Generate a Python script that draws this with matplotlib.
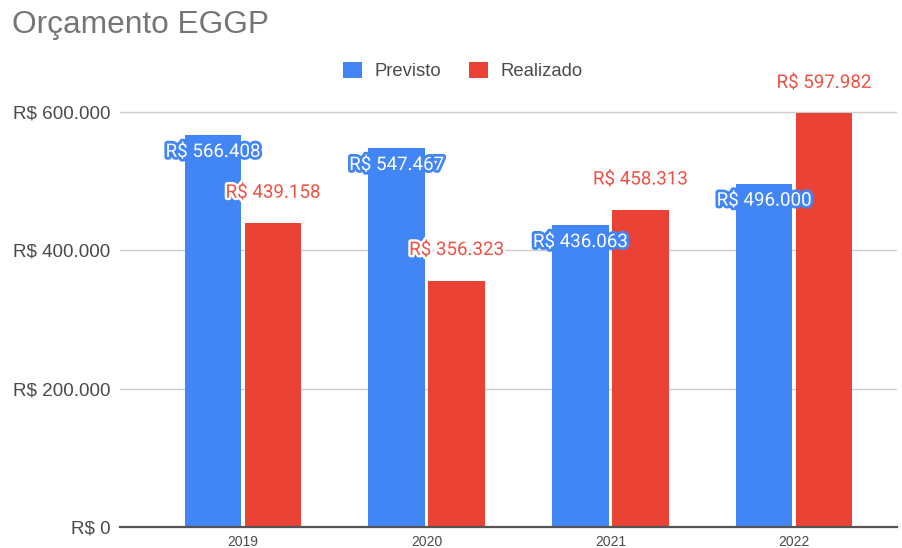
import numpy as np
import matplotlib.pyplot as plt
import matplotlib.patheffects as pe
from matplotlib.patches import Patch

anos = ['2019', '2020', '2021', '2022']
previsto = [566408, 547467, 436063, 496000]
realizado = [439158, 356323, 458313, 597982]
yticks = [0, 200000, 400000, 600000]

azul = '#4285F4'
vermelho = '#EA4335'


def brl(v):
    return 'R$ ' + f'{v:,.0f}'.replace(',', '.')


plt.rcParams['font.family'] = ['Liberation Sans', 'DejaVu Sans']

fig = plt.figure(figsize=(9.02, 5.48), dpi=100)
# axes placed in pixel terms: left 120, right 897, bottom 527, top ~98
ax = fig.add_axes([120 / 902, 1 - 527 / 548, 777 / 902, 428.8 / 548])

x = np.arange(len(anos))
w = 0.309
off = 0.163
b1 = ax.bar(x - off, previsto, w, color=azul, zorder=3)
b2 = ax.bar(x + off, realizado, w, color=vermelho, zorder=3)

ax.set_xlim(-0.6696, 3.5607)
ax.set_ylim(0, 620000)
ax.set_yticks(yticks)
ax.set_yticklabels([brl(v) for v in yticks])
ax.set_xticks(x)
ax.set_xticklabels(anos)
ax.tick_params(axis='y', length=0, pad=7, labelsize=13.6, labelcolor='#4a4a4a')
ax.tick_params(axis='x', length=0, pad=6, labelsize=10, labelcolor='#4a4a4a')

ax.grid(axis='y', color='#cccccc', linewidth=1, zorder=0)
for s in ['top', 'right', 'left']:
    ax.spines[s].set_visible(False)
ax.spines['bottom'].set_color('#555555')
ax.spines['bottom'].set_linewidth(1.6)
ax.spines['bottom'].set_zorder(4)

# rótulos de dados
for xi, v in zip(x - off, previsto):
    ax.annotate(brl(v), (xi, v), xytext=(0, -12), textcoords='offset points',
                ha='center', va='center', fontsize=13.5, family='Roboto',
                color='white', zorder=5,
                path_effects=[pe.withStroke(linewidth=4, foreground=azul)])
for xi, v in zip(x + off, realizado):
    ax.annotate(brl(v), (xi, v), xytext=(0, 22), textcoords='offset points',
                ha='center', va='center', fontsize=13.5, family='Roboto',
                color='#EE5144', zorder=5,
                path_effects=[pe.withStroke(linewidth=3.5, foreground='white')])

fig.text(12 / 902, 1 - 33 / 548, 'Orçamento EGGP', fontsize=22.8,
         color='#757575', ha='left', va='baseline')

handles = [Patch(facecolor=azul, label='Previsto'),
           Patch(facecolor=vermelho, label='Realizado')]
fig.legend(handles=handles, loc='center', bbox_to_anchor=(463 / 902, 1 - 71 / 548),
           ncol=2, frameon=False, fontsize=13.3, handlelength=1.0,
           handleheight=1.0, handletextpad=0.7, columnspacing=1.5,
           labelcolor='#4a4a4a')

fig.savefig('out.png', dpi=100)
